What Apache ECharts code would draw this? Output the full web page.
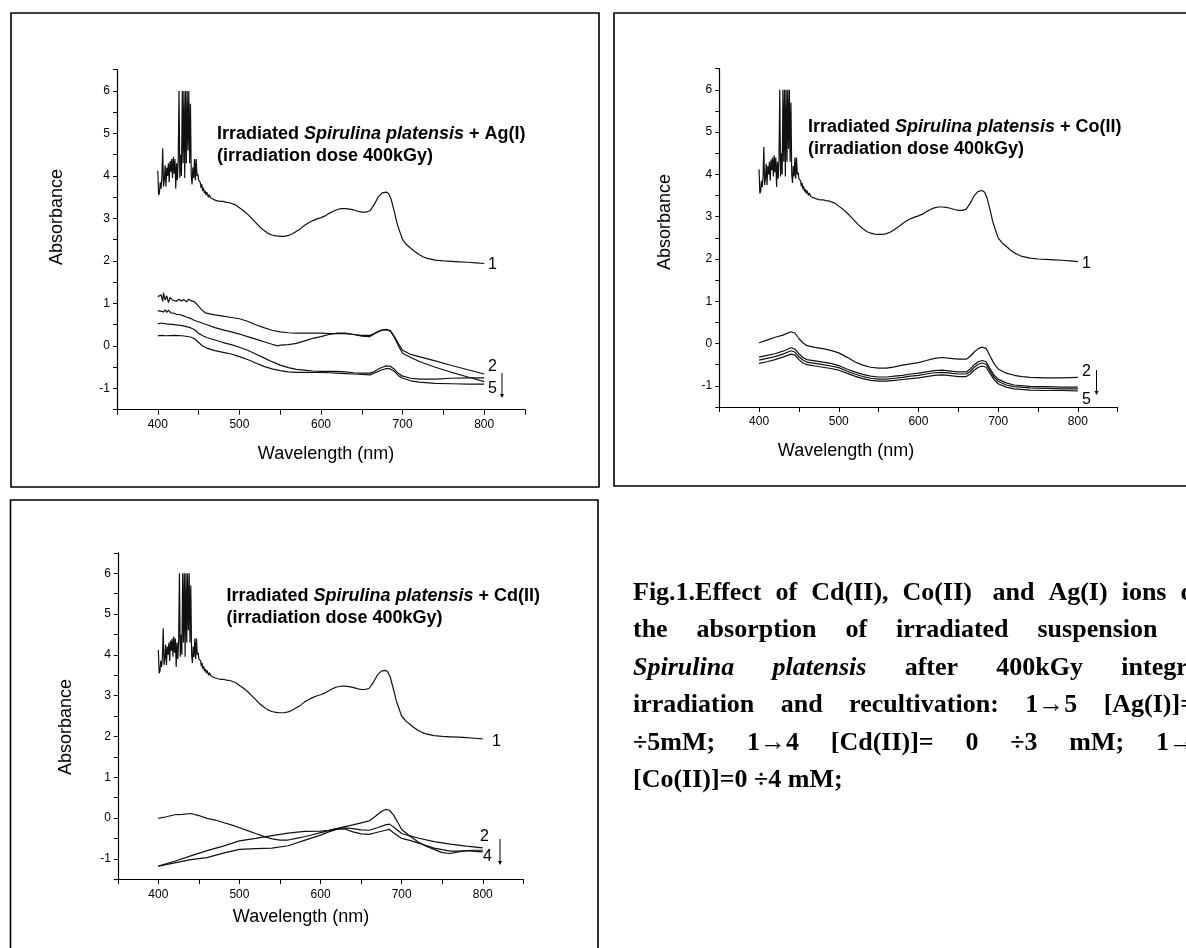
<!DOCTYPE html>
<html>
<head>
<meta charset="utf-8">
<script src="https://cdn.jsdelivr.net/npm/echarts@6/dist/echarts.min.js"></script>
<style>
  html, body { margin: 0; padding: 0; background: #fff; overflow: hidden; }
  #main { width: 1186px; height: 948px; }
</style>
</head>
<body>
<div id="main"></div>
<script>
// wavelength (nm), absorbance
// curve 1, irradiated Spirulina without metal (same in all panels)
const curve1 = [
  [400, 4.12], [401, 3.55], [402, 3.6], [403, 3.85], [404, 3.7], [405, 3.95], [406, 4.65], [407, 3.75],
  [408, 3.9], [409, 4.25], [410, 3.75], [411, 4.2], [412, 4.0], [413, 4.3], [414, 3.85], [415, 4.35],
  [416, 4.1], [417, 4.4], [418, 3.95], [419, 4.45], [420, 4.05], [421, 4.4], [422, 3.7], [423, 4.3],
  [424, 3.9], [425, 4.35], [426, 6.0], [427, 3.95], [428, 4.5], [429, 4.0], [430, 6.0], [431, 4.3],
  [432, 6.0], [433, 3.95], [434, 6.0], [435, 4.3], [436, 6.0], [437, 4.6], [438, 6.0], [439, 4.3],
  [440, 5.7], [441, 4.0], [442, 3.8], [443, 4.2], [444, 3.95], [445, 4.4], [446, 3.9], [447, 4.4],
  [448, 4.0], [449, 4.05], [450, 3.9], [452, 3.85], [453, 3.72], [454, 3.8], [455, 3.65], [456, 3.72],
  [457, 3.6], [458, 3.65], [459, 3.55], [460, 3.62], [462, 3.5], [463, 3.56], [465, 3.48], [466, 3.52],
  [468, 3.45], [470, 3.48], [472, 3.42], [474, 3.45], [476, 3.4], [478, 3.44], [480, 3.4], [482, 3.43],
  [484, 3.38], [486, 3.41], [488, 3.37], [490, 3.36], [495, 3.32], [500, 3.25], [505, 3.18], [510, 3.1],
  [515, 3.0], [520, 2.9], [525, 2.8], [530, 2.72], [535, 2.65], [540, 2.61], [545, 2.59], [550, 2.58],
  [555, 2.58], [560, 2.6], [565, 2.64], [570, 2.7], [575, 2.76], [580, 2.84], [585, 2.9], [590, 2.95],
  [595, 2.99], [600, 3.02], [605, 3.06], [610, 3.12], [615, 3.17], [620, 3.21], [625, 3.23], [630, 3.23],
  [635, 3.22], [640, 3.2], [645, 3.17], [650, 3.15], [655, 3.15], [660, 3.18], [665, 3.32], [670, 3.5],
  [675, 3.6], [680, 3.62], [683, 3.58], [686, 3.45], [690, 3.15], [693, 2.9], [696, 2.72], [700, 2.5],
  [705, 2.38], [710, 2.3], [715, 2.22], [720, 2.15], [725, 2.1], [730, 2.06], [740, 2.02], [750, 2.0],
  [760, 1.99], [770, 1.98], [780, 1.97], [790, 1.955], [800, 1.94]
];

// Ag(I) panel, curves 2..5
const ag2 = [
  [400, 1.16], [402, 1.12], [404, 1.2], [406, 1.05], [407, 1.25], [409, 1.08], [411, 1.18], [413, 1.02],
  [415, 1.14], [418, 1.08], [420, 1.12], [423, 1.05], [426, 1.1], [429, 1.06], [432, 1.09], [435, 1.04],
  [438, 1.1], [441, 1.06], [444, 1.05], [447, 1.0], [450, 0.93], [454, 0.85], [458, 0.78], [465, 0.75],
  [470, 0.73], [480, 0.7], [490, 0.67], [500, 0.64], [510, 0.58], [520, 0.5], [530, 0.43], [540, 0.37],
  [550, 0.33], [560, 0.31], [570, 0.3], [580, 0.3], [590, 0.3], [600, 0.3], [610, 0.29], [620, 0.29],
  [630, 0.29], [640, 0.27], [650, 0.25], [660, 0.25], [665, 0.29], [670, 0.34], [675, 0.38], [680, 0.39],
  [685, 0.36], [690, 0.22], [695, 0.05], [700, -0.1], [710, -0.2], [720, -0.25], [740, -0.35], [760, -0.46],
  [780, -0.56], [800, -0.66]
];
const ag3 = [
  [400, 0.83], [403, 0.82], [405, 0.86], [407, 0.8], [409, 0.85], [411, 0.79], [413, 0.84], [416, 0.78],
  [420, 0.77], [423, 0.74], [426, 0.74], [430, 0.72], [435, 0.68], [440, 0.65], [445, 0.6], [450, 0.57],
  [460, 0.5], [470, 0.43], [480, 0.38], [490, 0.33], [500, 0.28], [510, 0.22], [520, 0.16], [530, 0.1],
  [540, 0.04], [547, 0.0], [550, 0.02], [560, 0.03], [570, 0.06], [580, 0.12], [590, 0.18], [600, 0.22],
  [610, 0.27], [620, 0.3], [630, 0.3], [640, 0.27], [650, 0.23], [660, 0.22], [665, 0.28], [670, 0.33],
  [675, 0.37], [680, 0.38], [685, 0.35], [690, 0.2], [695, 0.0], [700, -0.17], [710, -0.27], [720, -0.36],
  [740, -0.5], [760, -0.62], [780, -0.73], [800, -0.84]
];
const ag4 = [
  [400, 0.52], [405, 0.54], [410, 0.52], [420, 0.5], [430, 0.48], [440, 0.43], [445, 0.38], [450, 0.3],
  [455, 0.24], [460, 0.2], [470, 0.14], [480, 0.08], [490, 0.03], [500, -0.03], [510, -0.1], [520, -0.19],
  [530, -0.28], [540, -0.37], [550, -0.45], [560, -0.51], [570, -0.55], [580, -0.57], [590, -0.59], [600, -0.6],
  [610, -0.6], [620, -0.6], [630, -0.61], [640, -0.63], [650, -0.64], [660, -0.64], [665, -0.6], [670, -0.55],
  [675, -0.5], [680, -0.47], [685, -0.48], [690, -0.55], [695, -0.65], [700, -0.71], [710, -0.76], [720, -0.78],
  [740, -0.78], [760, -0.76], [780, -0.75], [800, -0.75]
];
const ag5 = [
  [400, 0.24], [405, 0.25], [410, 0.24], [420, 0.25], [430, 0.24], [440, 0.21], [445, 0.17], [450, 0.08],
  [455, 0.0], [460, -0.05], [470, -0.11], [480, -0.15], [490, -0.19], [500, -0.25], [510, -0.32], [520, -0.4],
  [530, -0.48], [540, -0.54], [550, -0.58], [560, -0.61], [570, -0.62], [580, -0.62], [590, -0.62], [600, -0.62],
  [610, -0.63], [620, -0.64], [630, -0.65], [640, -0.66], [650, -0.67], [660, -0.68], [665, -0.64], [670, -0.6],
  [675, -0.56], [680, -0.53], [685, -0.54], [690, -0.6], [695, -0.7], [700, -0.76], [710, -0.82], [720, -0.85],
  [740, -0.88], [760, -0.89], [780, -0.9], [800, -0.9]
];

// Co(II) panel, curves 2..5
const co2 = [
  [400, 0.02], [410, 0.08], [420, 0.15], [430, 0.2], [435, 0.24], [440, 0.28], [445, 0.25], [450, 0.12],
  [455, 0.02], [460, -0.05], [470, -0.09], [480, -0.12], [490, -0.16], [500, -0.22], [510, -0.32], [520, -0.43],
  [530, -0.51], [540, -0.56], [550, -0.58], [560, -0.58], [570, -0.55], [580, -0.51], [590, -0.48], [600, -0.45],
  [610, -0.4], [620, -0.35], [630, -0.33], [640, -0.35], [650, -0.37], [660, -0.37], [665, -0.3], [670, -0.2],
  [675, -0.12], [680, -0.08], [685, -0.12], [690, -0.3], [695, -0.48], [700, -0.6], [710, -0.7], [720, -0.75],
  [730, -0.78], [740, -0.8], [760, -0.81], [780, -0.81], [800, -0.8]
];
const co3 = [
  [400, -0.32], [410, -0.28], [420, -0.24], [430, -0.18], [440, -0.1], [445, -0.13], [450, -0.24], [455, -0.33],
  [460, -0.38], [470, -0.41], [480, -0.44], [490, -0.47], [500, -0.52], [510, -0.6], [520, -0.67], [530, -0.73],
  [540, -0.77], [550, -0.79], [560, -0.79], [570, -0.77], [580, -0.75], [590, -0.72], [600, -0.7], [610, -0.67],
  [620, -0.64], [630, -0.63], [640, -0.65], [650, -0.67], [660, -0.67], [665, -0.6], [670, -0.5], [675, -0.43],
  [680, -0.4], [685, -0.43], [690, -0.6], [695, -0.75], [700, -0.84], [710, -0.93], [720, -0.98], [740, -1.01],
  [760, -1.02], [780, -1.03], [800, -1.03]
];
const co4 = [
  [400, -0.39], [410, -0.35], [420, -0.31], [430, -0.25], [440, -0.17], [445, -0.2], [450, -0.31], [455, -0.39],
  [460, -0.44], [470, -0.47], [480, -0.5], [490, -0.53], [500, -0.57], [510, -0.65], [520, -0.72], [530, -0.78],
  [540, -0.82], [550, -0.84], [560, -0.84], [570, -0.82], [580, -0.8], [590, -0.77], [600, -0.75], [610, -0.72],
  [620, -0.69], [630, -0.68], [640, -0.7], [650, -0.72], [660, -0.72], [665, -0.66], [670, -0.56], [675, -0.49],
  [680, -0.46], [685, -0.49], [690, -0.65], [695, -0.8], [700, -0.89], [710, -0.98], [720, -1.02], [740, -1.05],
  [760, -1.06], [780, -1.07], [800, -1.07]
];
const co5 = [
  [400, -0.47], [410, -0.43], [420, -0.38], [430, -0.32], [440, -0.25], [445, -0.27], [450, -0.38], [455, -0.46],
  [460, -0.5], [470, -0.53], [480, -0.56], [490, -0.59], [500, -0.63], [510, -0.7], [520, -0.77], [530, -0.83],
  [540, -0.87], [550, -0.89], [560, -0.89], [570, -0.87], [580, -0.85], [590, -0.83], [600, -0.81], [610, -0.78],
  [620, -0.75], [630, -0.74], [640, -0.76], [650, -0.78], [660, -0.78], [665, -0.72], [670, -0.63], [675, -0.56],
  [680, -0.53], [685, -0.56], [690, -0.71], [695, -0.86], [700, -0.95], [710, -1.03], [720, -1.07], [740, -1.1],
  [760, -1.11], [780, -1.11], [800, -1.12]
];

// Cd(II) panel, curves 2..4
const cd2 = [
  [400, -0.01], [410, 0.03], [420, 0.08], [430, 0.09], [440, 0.11], [450, 0.06], [460, -0.01], [470, -0.05],
  [480, -0.11], [490, -0.17], [500, -0.24], [510, -0.31], [520, -0.38], [530, -0.45], [540, -0.51], [550, -0.54],
  [560, -0.54], [570, -0.5], [580, -0.46], [590, -0.41], [600, -0.36], [610, -0.31], [620, -0.26], [630, -0.21],
  [640, -0.17], [650, -0.12], [660, -0.07], [665, 0.0], [670, 0.08], [675, 0.16], [680, 0.21], [685, 0.19],
  [690, 0.07], [695, -0.1], [700, -0.28], [710, -0.44], [720, -0.58], [730, -0.69], [740, -0.77], [750, -0.85],
  [760, -0.87], [770, -0.83], [780, -0.8], [790, -0.82], [800, -0.83]
];
const cd3 = [
  [400, -1.18], [420, -1.06], [440, -0.93], [460, -0.8], [480, -0.69], [500, -0.56], [520, -0.5], [540, -0.43],
  [560, -0.37], [580, -0.33], [600, -0.32], [610, -0.3], [620, -0.26], [630, -0.24], [640, -0.26], [650, -0.29],
  [660, -0.3], [670, -0.24], [680, -0.17], [685, -0.15], [690, -0.22], [700, -0.38], [710, -0.44], [720, -0.49],
  [740, -0.58], [760, -0.64], [780, -0.69], [800, -0.73]
];
const cd4 = [
  [400, -1.18], [420, -1.1], [440, -1.02], [460, -0.97], [480, -0.86], [500, -0.77], [520, -0.75], [540, -0.74],
  [560, -0.68], [580, -0.55], [600, -0.42], [610, -0.34], [620, -0.28], [630, -0.27], [640, -0.34], [650, -0.39],
  [660, -0.4], [670, -0.35], [680, -0.3], [685, -0.28], [690, -0.36], [700, -0.5], [710, -0.55], [720, -0.61],
  [740, -0.74], [760, -0.81], [770, -0.81], [780, -0.8], [790, -0.79], [800, -0.79]
];

const xLabels = [400, 500, 600, 700, 800];
const yLabels = [-1, 0, 1, 2, 3, 4, 5, 6];

const panels = [
  { ion: 'Ag(I)', curves: [curve1, ag2, ag3, ag4, ag5] },
  { ion: 'Co(II)', curves: [curve1, co2, co3, co4, co5] },
  { ion: 'Cd(II)', curves: [curve1, cd2, cd3, cd4] }
];

const SANS = '"Liberation Sans", Arial, sans-serif';
const SERIF = '"Liberation Serif", "Times New Roman", serif';
const ctx = document.createElement('canvas').getContext('2d');
function textW(font, s) {
  ctx.font = font;
  return ctx.measureText(s).width;
}
function txt(x, y, s, font, extra) {
  return Object.assign({
    type: 'text', x: x, y: y, silent: true,
    style: { text: s, font: font, fill: '#000', textAlign: 'left', textVerticalAlign: 'middle', align: 'left', verticalAlign: 'middle' }
  }, extra || {});
}
// parts laid end to end: [text, italic]
function runs(x, y, parts, size) {
  const out = [];
  parts.forEach(p => {
    const f = (p[1] ? 'italic ' : '') + 'bold ' + size + 'px ' + SANS;
    out.push(txt(x, y, p[0], f));
    x += textW(f, p[0]);
  });
  return out;
}
// justified caption line
function justify(x, y, width, words, size, last) {
  const fonts = words.map(wd => (wd[1] ? 'italic ' : '') + 'bold ' + size + 'px ' + SERIF);
  const ws = words.map((wd, i) => textW(fonts[i], wd[0]));
  const total = ws.reduce((a, b) => a + b, 0);
  const gap = last ? textW(fonts[0], ' ') : (width - total) / (words.length - 1);
  const out = [];
  words.forEach((wd, i) => {
    out.push(txt(x, y, wd[0], fonts[i]));
    x += ws[i] + gap;
  });
  return out;
}

const grids = [
  { left: 117, top: 69.7, width: 408, height: 340 },
  { left: 719.2, top: 68.7, width: 398.5, height: 338.3 },
  { left: 117.8, top: 552.8, width: 405.5, height: 326.4 }
];

const xAxes = grids.map((g, i) => ({
  type: 'value', gridIndex: i, min: 350, max: 850, interval: 50,
  axisLine: { onZero: false, lineStyle: { color: '#000', width: 1.2 } },
  axisTick: { length: 5, lineStyle: { color: '#000', width: 1 } },
  axisLabel: {
    color: '#000', fontSize: 12, fontFamily: SANS, margin: 9,
    formatter: v => (xLabels.indexOf(v) >= 0 ? String(v) : '')
  },
  splitLine: { show: false }
}));
const yAxes = grids.map((g, i) => ({
  type: 'value', gridIndex: i, min: -1.5, max: 6.5, interval: 0.5,
  axisLine: { show: true, onZero: false, lineStyle: { color: '#000', width: 1.2 } },
  axisTick: { show: true, length: 4, lineStyle: { color: '#000', width: 1 } },
  axisLabel: {
    color: '#000', fontSize: 12, fontFamily: SANS, margin: 7,
    formatter: v => {
      const r = Math.round(v);
      return Math.abs(v - r) < 1e-6 && yLabels.indexOf(r) >= 0 ? String(r) : '';
    }
  },
  splitLine: { show: false }
}));

const series = [];
panels.forEach((p, i) => {
  p.curves.forEach(d => {
    series.push({
      type: 'line', xAxisIndex: i, yAxisIndex: i, data: d,
      showSymbol: false, silent: true, clip: false,
      lineStyle: { color: '#111', width: 1.2 }
    });
  });
});

// frames, titles, axis names, curve numbers, arrows
const graphic = [];
[[11, 13, 588, 474], [614, 13, 580, 473], [10.5, 500, 587.5, 460]].forEach(r => {
  graphic.push({ type: 'rect', silent: true, shape: { x: r[0], y: r[1], width: r[2], height: r[3] },
    style: { fill: 'none', stroke: '#000', lineWidth: 1.6 } });
});
const titlePos = [[217, 134, 156], [808, 127.5, 149], [226.5, 596, 618]];
panels.forEach((p, i) => {
  const t = titlePos[i];
  graphic.push(...runs(t[0], t[1], [['Irradiated ', 0], ['Spirulina platensis', 1], [' + ' + p.ion, 0]], 18));
  graphic.push(...runs(t[0], t[2], [['(irradiation dose 400kGy)', 0]], 18));
});
const axisFont = '18px ' + SANS;
[[57, 217], [665, 222], [66, 727]].forEach(a => {
  graphic.push(txt(a[0], a[1], 'Absorbance', axisFont, { rotation: Math.PI / 2,
    style: { text: 'Absorbance', font: axisFont, fill: '#000', textAlign: 'center', textVerticalAlign: 'middle', align: 'center', verticalAlign: 'middle' } }));
});
[[326, 454], [846, 451], [301, 917]].forEach(a => {
  graphic.push(txt(a[0], a[1], 'Wavelength (nm)', axisFont, {
    style: { text: 'Wavelength (nm)', font: axisFont, fill: '#000', textAlign: 'center', textVerticalAlign: 'middle', align: 'center', verticalAlign: 'middle' } }));
});
const numFont = '16px ' + SANS;
[[488, 265, '1'], [488, 367, '2'], [488, 389, '5'],
 [1082, 264, '1'], [1082, 372, '2'], [1082, 400, '5'],
 [492, 742, '1'], [480, 837, '2'], [483, 857, '4']].forEach(n => {
  graphic.push(txt(n[0], n[1], n[2], numFont));
});
[[502, 373, 398], [1096.5, 370, 395], [500, 839, 865]].forEach(a => {
  graphic.push({ type: 'line', silent: true, shape: { x1: a[0], y1: a[1], x2: a[0], y2: a[2] - 3 },
    style: { stroke: '#000', lineWidth: 1 } });
  graphic.push({ type: 'polygon', silent: true, shape: { points: [[a[0] - 2, a[2] - 4], [a[0] + 2, a[2] - 4], [a[0], a[2]]] },
    style: { fill: '#000' } });
});

// caption, justified bold Times
const capLines = [
  [['Fig.1.Effect', 0], ['of', 0], ['Cd(II),', 0], ['Co(II)\u00a0', 0], ['and', 0], ['Ag(I)', 0], ['ions', 0], ['on', 0]],
  [['the', 0], ['absorption', 0], ['of', 0], ['irradiated', 0], ['suspension', 0], ['of', 0]],
  [['Spirulina', 1], ['platensis', 1], ['after', 0], ['400kGy', 0], ['integral', 0]],
  [['irradiation', 0], ['and', 0], ['recultivation:', 0], ['1\u21925', 0], ['[Ag(I)]=0', 0]],
  [['\u00f75mM;', 0], ['1\u21924', 0], ['[Cd(II)]=', 0], ['0', 0], ['\u00f73', 0], ['mM;', 0], ['1\u21925', 0]],
  [['[Co(II)]=0', 0], ['\u00f74', 0], ['mM;', 0]]
];
capLines.forEach((ln, i) => {
  graphic.push(...justify(633, 593 + i * 37.5, 575, ln, 26, i === capLines.length - 1));
});

const chart = echarts.init(document.getElementById('main'));
chart.setOption({
  backgroundColor: '#fff',
  animation: false,
  grid: grids,
  xAxis: xAxes,
  yAxis: yAxes,
  series: series,
  graphic: { elements: graphic }
});
</script>
</body>
</html>
